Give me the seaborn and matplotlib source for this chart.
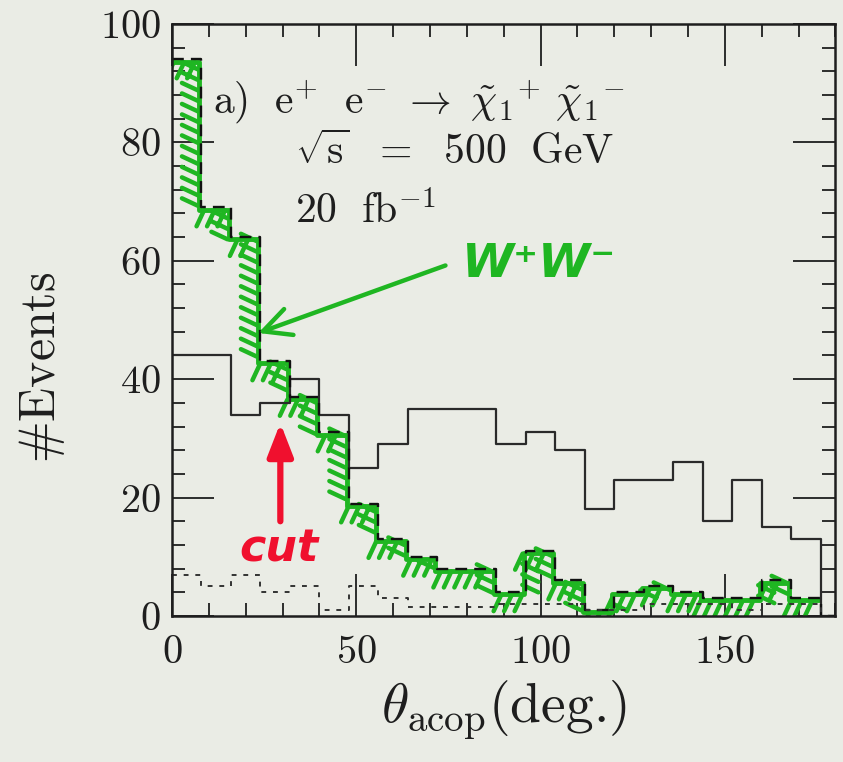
import numpy as np
import pandas as pd
import matplotlib
matplotlib.use("Agg")
import matplotlib.pyplot as plt
import matplotlib.patheffects as pe
from matplotlib.ticker import MultipleLocator, FixedLocator
import seaborn as sns

# ---------------- data ----------------
bin_edges = [0, 8, 16, 24, 32, 40, 48, 56, 64, 72, 80, 88, 96, 104, 112,
             120, 128, 136, 144, 152, 160, 168, 176, 184]
# chargino signal (solid)
signal_counts = [44, 44, 34, 36, 40, 34, 25, 29, 35, 35, 35, 29, 31, 28, 18,
                 23, 23, 26, 16, 23, 15, 13, 0]
# W+W- background (dashed, highlighted green)
ww_counts = [94, 69, 64, 43, 37, 31, 19, 13, 10, 8, 8, 4, 11, 6, 1,
             4, 5, 4, 3, 3, 6, 3, 0]
# other background (dotted)
other_counts = [7, 5, 7, 4, 5, 1, 5, 3, 1.5, 1.5, 1.5, 2, 2, 2, 1,
                1, 2, 2, 2, 1, 2, 2, 0]

x_major = [0, 50, 100, 150]
y_major = [0, 20, 40, 60, 80, 100]

edges = [float(e) for e in bin_edges]
centers = [(a + b) / 2 for a, b in zip(edges[:-1], edges[1:])]
df = pd.DataFrame({"theta": centers, "signal": signal_counts,
                   "ww": ww_counts, "other": other_counts})

# ---------------- style ----------------
sns.set_style("ticks")
bg = "#eaece5"
ink = "#1e1e1e"
green = "#1fb622"
red = "#f0102e"
plt.rcParams["font.family"] = ["cmr10", "DejaVu Serif"]
plt.rcParams["mathtext.fontset"] = "cm"
plt.rcParams["axes.formatter.use_mathtext"] = True

fig = plt.figure(figsize=(8.43, 7.62), dpi=100, facecolor=bg)
ax = fig.add_axes([0.204, 0.1916, 0.787, 0.777])
ax.set_facecolor(bg)

# green highlighter (hand-drawn hatching) along the WW histogram
sns.histplot(data=df.iloc[:-1], x="theta", weights="ww", bins=edges[:-1],
             element="step", fill=False, color=green, linewidth=4, ax=ax)
gline = ax.lines[-1]
gline.set_path_effects([
    pe.TickedStroke(angle=-115, spacing=7.5, length=1.7, linewidth=3.2,
                    foreground=green, offset=(-2.5, -2.0)),
    pe.Stroke(linewidth=3.5, foreground=green, offset=(-1.5, -1.5)),
])

# solid signal histogram
sns.histplot(data=df, x="theta", weights="signal", bins=edges,
             element="step", fill=False, color="#2a2a2a", linewidth=1.6, ax=ax)
# dashed WW histogram
sns.histplot(data=df, x="theta", weights="ww", bins=edges,
             element="step", fill=False, color="#111111", linewidth=1.7,
             linestyle=(0, (5, 3)), ax=ax)
# dotted other background
sns.histplot(data=df, x="theta", weights="other", bins=edges,
             element="step", fill=False, color="#333333", linewidth=1.4,
             linestyle=(0, (2.5, 3.5)), ax=ax)

ax.set_xlim(0, 180)
ax.set_ylim(0, 100)

# ---------------- axes / ticks ----------------
for s in ax.spines.values():
    s.set_linewidth(1.8)
    s.set_color(ink)
    s.set_visible(True)
ax.xaxis.set_major_locator(FixedLocator(x_major))
ax.xaxis.set_minor_locator(MultipleLocator(10))
ax.yaxis.set_major_locator(FixedLocator(y_major))
ax.yaxis.set_minor_locator(MultipleLocator(4))
ax.tick_params(which="both", direction="in", top=True, right=True,
               color=ink, width=1.3, labelcolor=ink, labelsize=29)
ax.tick_params(which="major", length=30)
ax.tick_params(which="minor", length=9.5)
ax.tick_params(axis="x", which="major", pad=14)
ax.tick_params(axis="y", which="major", pad=8)

ax.set_xlabel(r"$\theta_{\mathrm{acop}}$(deg.)", fontsize=40, color=ink)
ax.xaxis.set_label_coords(0.5, -0.105)
ax.set_ylabel(r"$\#\mathrm{Events}$", fontsize=36, color=ink)
ax.yaxis.set_label_coords(-0.158, 0.42)

# ---------------- annotations ----------------
ax.text(11, 86.7, r"$\mathrm{a)}\ \ \mathrm{e}^{+}\ \ \mathrm{e}^{-}\ \rightarrow\ "
        r"\tilde{\chi}_1{}^{+}\ \tilde{\chi}_1{}^{-}$",
        fontsize=30, color=ink, ha="left", va="center")
ax.text(33.4, 78.4, r"$\sqrt{\mathrm{s}}\ \ =\ \ 500\ \ \mathrm{GeV}$",
        fontsize=30, color=ink, ha="left", va="center")
ax.text(33.4, 68.4, r"$20\ \ \mathrm{fb}^{-1}$",
        fontsize=30, color=ink, ha="left", va="center")

ax.text(99.5, 59.3, "W\u207aW\u207b", fontsize=34, color=green,
        fontweight="heavy", fontstyle="italic", family=["DejaVu Sans"],
        ha="center", va="center")
ax.annotate("", xy=(23.4, 47.8), xytext=(74.2, 59.2),
            arrowprops=dict(arrowstyle="->,head_length=0.9,head_width=0.45",
                            color=green, lw=3.2, mutation_scale=22,
                            shrinkA=0, shrinkB=0))

ax.annotate("", xy=(29.4, 32.6), xytext=(29.4, 16.0),
            arrowprops=dict(arrowstyle="-|>,head_length=0.9,head_width=0.35",
                            color=red, lw=4.5, mutation_scale=22,
                            shrinkA=0, shrinkB=0))
ax.text(29.0, 11.4, "cut", fontsize=32, color=red, fontweight="heavy",
        fontstyle="italic", family=["DejaVu Sans"], ha="center", va="center")

fig.savefig("out.png", dpi=100, facecolor=bg)
